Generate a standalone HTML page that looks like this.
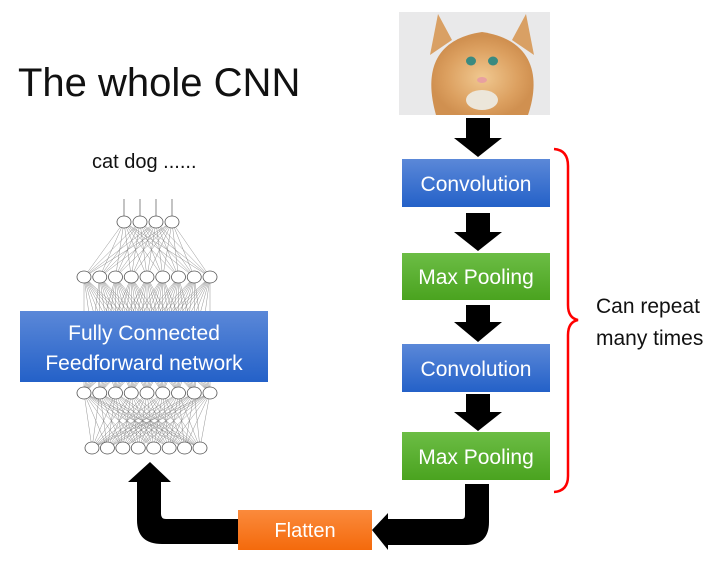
<!DOCTYPE html>
<html><head><meta charset="utf-8"><style>
body{margin:0;background:#fff;width:718px;height:574px;overflow:hidden}
svg{display:block}
text{font-family:"Liberation Sans",sans-serif}
</style></head><body>
<svg id="s" width="718" height="574" viewBox="0 0 718 574">
<defs>
<linearGradient id="bl" x1="0" y1="0" x2="0" y2="1"><stop offset="0" stop-color="#5b88d8"/><stop offset="1" stop-color="#2461c8"/></linearGradient>
<linearGradient id="gr" x1="0" y1="0" x2="0" y2="1"><stop offset="0" stop-color="#6cbd45"/><stop offset="1" stop-color="#4aa31f"/></linearGradient>
<linearGradient id="or" x1="0" y1="0" x2="0" y2="1"><stop offset="0" stop-color="#fb8a3c"/><stop offset="1" stop-color="#f46a0c"/></linearGradient>
<radialGradient id="cat" cx="0.5" cy="0.55" r="0.5"><stop offset="0" stop-color="#f0c890"/><stop offset="0.7" stop-color="#dca060"/><stop offset="1" stop-color="#d09050"/></radialGradient>
</defs>
<text x="18" y="96" font-size="40" fill="#111">The whole CNN</text>
<text x="92" y="168" font-size="20" fill="#111">cat dog ......</text>
<!-- cat -->
<rect x="399" y="12" width="151" height="103" fill="#e9e9ea"/>
<polygon points="438,14 452,40 430,55" fill="#d9a064"/>
<polygon points="526,14 512,40 534,55" fill="#d9a064"/>
<path d="M436,115 C426,80 428,40 482,32 C536,40 540,80 528,115 Z" fill="url(#cat)"/>
<ellipse cx="471" cy="61" rx="5" ry="4.5" fill="#3a8a80"/><ellipse cx="493" cy="61" rx="5" ry="4.5" fill="#3a8a80"/>
<ellipse cx="482" cy="80" rx="5" ry="3" fill="#e8a0a0"/>
<ellipse cx="482" cy="100" rx="16" ry="10" fill="#ece6da"/>
<g id="g"></g>
<!-- arrows -->
<g fill="#000">
<polygon points="466,118 490,118 490,138 502,138 478,157 454,138 466,138"/>
<polygon points="466,213 490,213 490,232 502,232 478,251 454,232 466,232"/>
<polygon points="466,305 490,305 490,322 502,322 478,342 454,322 466,322"/>
<polygon points="466,394 490,394 490,412 502,412 478,431 454,412 466,412"/>
<path d="M465,484 L489,484 L489,522 Q489,545 466,545 L388,545 L388,550 L372,530 L388,513 L388,519 L462,519 Q465,519 465,515 Z"/>
<path d="M238,519 L166,519 Q161,519 161,514 L161,482 L171,482 L150,462 L128,482 L137,482 L137,520 Q137,544 162,544 L238,544 Z"/>
</g>
<rect x="402" y="159" width="148" height="48" fill="url(#bl)"/>
<text x="476" y="191" font-size="21" fill="#fff" text-anchor="middle">Convolution</text>
<rect x="402" y="253" width="148" height="47" fill="url(#gr)"/>
<text x="476" y="284" font-size="21" fill="#fff" text-anchor="middle">Max Pooling</text>
<rect x="402" y="344" width="148" height="48" fill="url(#bl)"/>
<text x="476" y="376" font-size="21" fill="#fff" text-anchor="middle">Convolution</text>
<rect x="402" y="432" width="148" height="48" fill="url(#gr)"/>
<text x="476" y="464" font-size="21" fill="#fff" text-anchor="middle">Max Pooling</text>
<rect x="238" y="510" width="134" height="40" fill="url(#or)"/>
<text x="305" y="537" font-size="20" fill="#fff" text-anchor="middle">Flatten</text>
<path d="M554,149 Q568,150 568,166 L568,305 Q568,318 578,320 Q568,322 568,335 L568,476 Q568,491 554,492" fill="none" stroke="#f00" stroke-width="2.5"/>
<text x="596" y="313" font-size="21" fill="#111">Can repeat</text>
<text x="596" y="345" font-size="21" fill="#111">many times</text>
<rect x="20" y="311" width="248" height="71" fill="url(#bl)"/>
<text x="144" y="340" font-size="21" fill="#fff" text-anchor="middle">Fully Connected</text>
<text x="144" y="370" font-size="21" fill="#fff" text-anchor="middle">Feedforward network</text>
</svg>
<script>
var g=document.getElementById('g'),ns='http://www.w3.org/2000/svg',h='';
function L(n,x0,x1,y){var a=[];for(var i=0;i<n;i++)a.push([x0+(x1-x0)*i/(n-1),y]);return a;}
var A=L(4,124,172,222),B=L(9,84,210,277),C=L(9,84,210,393),D=L(8,92,200,448);
function con(P,Q){P.forEach(function(p){Q.forEach(function(q){h+='<line x1="'+p[0]+'" y1="'+p[1]+'" x2="'+q[0]+'" y2="'+q[1]+'" stroke="#777" stroke-width="0.4"/>';});});}
con(A,B);con(B,C);con(C,D);
A.forEach(function(p){h+='<line x1="'+p[0]+'" y1="199" x2="'+p[0]+'" y2="'+p[1]+'" stroke="#555" stroke-width="0.7"/>';});
[A,B,C,D].forEach(function(P){P.forEach(function(p){h+='<ellipse cx="'+p[0]+'" cy="'+p[1]+'" rx="7" ry="6" fill="#fff" stroke="#555" stroke-width="0.8"/>';});});
g.innerHTML=h;
</script>
</body></html>
